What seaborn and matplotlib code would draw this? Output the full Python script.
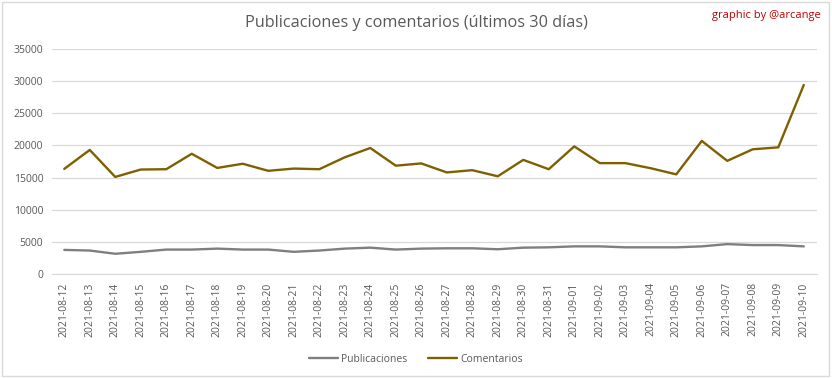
import pandas as pd
import seaborn as sns
import matplotlib.pyplot as plt
from matplotlib.patches import Rectangle

# Data
fechas = ["2021-08-12", "2021-08-13", "2021-08-14", "2021-08-15", "2021-08-16",
          "2021-08-17", "2021-08-18", "2021-08-19", "2021-08-20", "2021-08-21",
          "2021-08-22", "2021-08-23", "2021-08-24", "2021-08-25", "2021-08-26",
          "2021-08-27", "2021-08-28", "2021-08-29", "2021-08-30", "2021-08-31",
          "2021-09-01", "2021-09-02", "2021-09-03", "2021-09-04", "2021-09-05",
          "2021-09-06", "2021-09-07", "2021-09-08", "2021-09-09", "2021-09-10"]
publicaciones = [3750, 3650, 3150, 3450, 3800, 3800, 3950, 3800, 3800, 3450,
                 3650, 3950, 4100, 3800, 3950, 4000, 4000, 3850, 4100, 4150,
                 4300, 4300, 4150, 4150, 4150, 4300, 4650, 4500, 4500, 4300]
comentarios = [16350, 19300, 15100, 16250, 16300, 18700, 16500, 17150, 16050, 16400,
               16300, 18150, 19600, 16850, 17200, 15800, 16150, 15200, 17750, 16300,
               19850, 17250, 17250, 16450, 15500, 20700, 17600, 19400, 19700, 29400]

series = ["Publicaciones", "Comentarios"]
colores = ["#7F7F7F", "#7F6000"]

df = pd.DataFrame({"fecha": fechas, "Publicaciones": publicaciones, "Comentarios": comentarios})
df_long = df.melt(id_vars="fecha", var_name="serie", value_name="valor")
df_long["pos"] = df_long["fecha"].map({f: i for i, f in enumerate(fechas)})

sns.set_style("white")
plt.rcParams["font.family"] = ["Open Sans", "DejaVu Sans"]

fig = plt.figure(figsize=(8.32, 3.78), dpi=100)
ax = fig.add_axes([0.0619, 0.2751, 0.9195, 0.5953])

sns.lineplot(data=df_long, x="pos", y="valor", hue="serie", hue_order=series,
             palette=colores, linewidth=1.7, ax=ax, legend=False)

ax.set_xlim(-0.5, len(fechas) - 0.5)
ax.set_ylim(0, 35000)
ax.set_yticks(range(0, 35001, 5000))
ax.set_yticklabels([str(v) for v in range(0, 35001, 5000)], fontsize=7.5, color="#595959")
ax.set_xticks(range(len(fechas)))
ax.set_xticklabels(fechas, rotation=90, fontsize=7.5, color="#595959")
ax.tick_params(axis="both", length=0, pad=6)
ax.grid(axis="y", color="#D9D9D9", linewidth=0.9)
ax.set_axisbelow(True)
for s in ["top", "right", "left"]:
    ax.spines[s].set_visible(False)
ax.spines["bottom"].set_color("#D9D9D9")
ax.set_xlabel("")
ax.set_ylabel("")

# Legend at bottom
handles = [plt.Line2D([], [], color=c, linewidth=1.7) for c in colores]
fig.legend(handles, series, loc="center", bbox_to_anchor=(0.5, 0.05), ncol=2,
           frameon=False, fontsize=7.5, labelcolor="#595959", handlelength=2.8,
           handletextpad=0.3, columnspacing=2.0)

fig.text(0.5, 0.94, "Publicaciones y comentarios (últimos 30 días)", ha="center", va="center",
         fontsize=11.7, color="#595959")
fig.text(0.987, 0.96, "graphic by @arcange", ha="right", va="center",
         fontsize=8, color="#C00000")

fig.patches.append(Rectangle((0.002, 0.004), 0.994, 0.992, transform=fig.transFigure,
                             fill=False, edgecolor="#D9D9D9", linewidth=1.0))

fig.savefig("out.png", dpi=100)
